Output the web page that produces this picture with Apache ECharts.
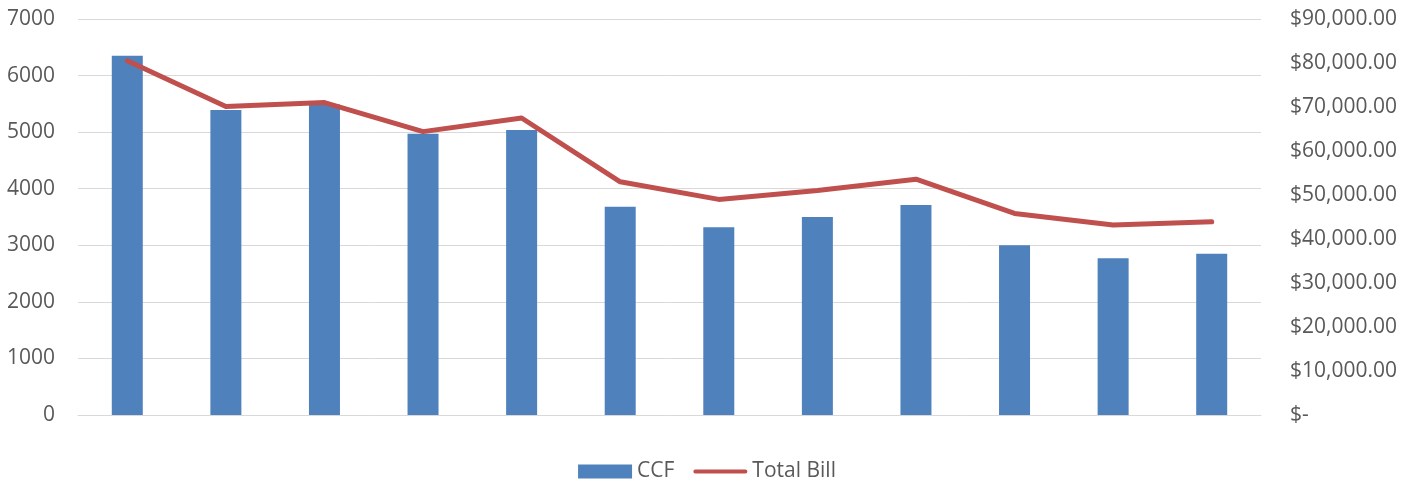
<!DOCTYPE html>
<html>
<head>
<meta charset="utf-8">
<script src="https://cdn.jsdelivr.net/npm/echarts@6/dist/echarts.min.js"></script>
<style>
html,body{margin:0;padding:0;background:#fff;}
#chart{width:1414px;height:483px;}
</style>
</head>
<body>
<div id="chart"></div>
<script>
const categories = ['1','2','3','4','5','6','7','8','9','10','11','12'];
const ccf = [6350, 5390, 5490, 4970, 5040, 3680, 3320, 3500, 3710, 3000, 2770, 2850];
const totalBill = [80500, 70100, 71000, 64400, 67500, 53000, 49000, 51000, 53600, 45800, 43200, 43900];
const leftTicks = {min: 0, max: 7000, interval: 1000};
const rightTicks = {min: 0, max: 90000, interval: 10000};

const chart = echarts.init(document.getElementById('chart'));
const fontFamily = "'Open Sans', 'Liberation Sans', sans-serif";
chart.setOption({
  animation: false,
  backgroundColor: '#ffffff',
  grid: {left: 78, right: 153, top: 19, bottom: 68, containLabel: false},
  legend: {
    top: 456,
    left: 'center',
    itemGap: 19,
    itemWidth: 54,
    itemHeight: 14,
    textStyle: {color: '#595959', fontSize: 21, fontFamily: fontFamily},
    data: [
      {name: 'CCF', icon: 'rect'},
      {name: 'Total Bill', icon: 'path://M4,3.5 L96,3.5 A3.5,3.5 0 0 1 96,10.5 L4,10.5 A3.5,3.5 0 0 1 4,3.5 Z'}
    ]
  },
  xAxis: {
    type: 'category',
    data: categories,
    boundaryGap: true,
    axisLine: {show: true, lineStyle: {color: '#D9D9D9', width: 1}},
    axisTick: {show: false},
    axisLabel: {show: false}
  },
  yAxis: [
    {
      type: 'value',
      min: leftTicks.min, max: leftTicks.max, interval: leftTicks.interval,
      axisLine: {show: false},
      axisTick: {show: false},
      splitLine: {lineStyle: {color: '#D9D9D9', width: 1}},
      axisLabel: {color: '#595959', fontSize: 21, fontFamily: fontFamily, margin: 23,
        formatter: function (v) { return String(v); }}
    },
    {
      type: 'value',
      position: 'right',
      min: rightTicks.min, max: rightTicks.max, interval: rightTicks.interval,
      axisLine: {show: false},
      axisTick: {show: false},
      splitLine: {show: false},
      axisLabel: {
        color: '#595959', fontSize: 21, fontFamily: fontFamily, margin: 29,
        formatter: function (v) {
          if (v === 0) return '$-';
          return '$' + v.toLocaleString('en-US', {minimumFractionDigits: 2, maximumFractionDigits: 2});
        }
      }
    }
  ],
  series: [
    {
      name: 'CCF',
      type: 'bar',
      yAxisIndex: 0,
      data: ccf,
      barWidth: 31,
      itemStyle: {color: '#4F81BD'}
    },
    {
      name: 'Total Bill',
      type: 'line',
      yAxisIndex: 1,
      data: totalBill,
      symbol: 'none',
      lineStyle: {color: '#C0504D', width: 5, cap: 'round', join: 'round'},
      itemStyle: {color: '#C0504D'}
    }
  ]
});
</script>
</body>
</html>
